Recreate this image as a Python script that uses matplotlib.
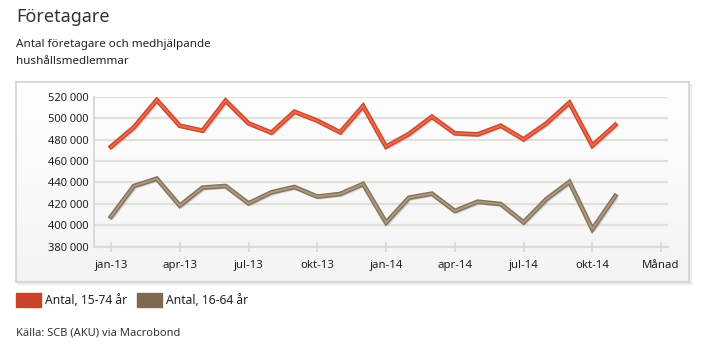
import numpy as np
import matplotlib.pyplot as plt
import matplotlib.patheffects as pe
from matplotlib.patches import Rectangle
from matplotlib.ticker import FuncFormatter

plt.rcParams['font.family'] = ['Noto Sans', 'DejaVu Sans']

# monthly values jan-13 .. nov-14
months = np.arange(23)
antal_15_74 = [473300, 491400, 516900, 492900, 488300, 516300, 495100, 486400,
               506000, 497600, 486700, 511300, 473300, 485200, 501300, 485800,
               484800, 492900, 480200, 495100, 514400, 474300, 493600]
antal_16_64 = [408000, 436600, 443500, 418300, 435100, 436600, 420400, 430700,
               435700, 426700, 429200, 438500, 402400, 425700, 429500, 413300,
               422000, 419800, 402700, 424500, 440400, 396200, 427300]
tick_pos = [0, 3, 6, 9, 12, 15, 18, 21, 24]
tick_labels = ['jan-13', 'apr-13', 'jul-13', 'okt-13', 'jan-14', 'apr-14',
               'jul-14', 'okt-14', 'Månad']
y_ticks = np.arange(380000, 520001, 20000)

W, H = 707, 352
fig = plt.figure(figsize=(W / 100, H / 100), dpi=100)

# framed background box with soft gradient
bg = fig.add_axes([16 / W, 1 - 282 / H, (689 - 16) / W, (282 - 82) / H])
grad = np.linspace(1.0, 0.955, 100).reshape(-1, 1)
bg.imshow(np.dstack([grad, grad, grad]), aspect='auto', extent=[0, 1, 0, 1])
bg.set_xticks([])
bg.set_yticks([])
for s in bg.spines.values():
    s.set_color('#d3d2ce')
    s.set_linewidth(1.2)
fig.patches.append(Rectangle((18 / W, 1 - 284 / H), (689 - 16) / W, (282 - 82) / H,
                             transform=fig.transFigure, color='#ececec', zorder=-1))

ax = fig.add_axes([94 / W, 1 - 246.7 / H, (668 - 94) / W, (246.7 - 96.7) / H])
ax.set_facecolor('none')

red_fx = [pe.SimpleLineShadow(offset=(1.5, -1.5), shadow_color='#777777', alpha=0.25),
          pe.Stroke(linewidth=3.4, foreground='#d6462a'), pe.Normal()]
brown_fx = [pe.SimpleLineShadow(offset=(1.5, -1.5), shadow_color='#777777', alpha=0.25),
            pe.Stroke(linewidth=3.4, foreground='#86735b'), pe.Normal()]
ax.plot(months, antal_15_74, color='#e56d51', lw=1.3, path_effects=red_fx,
        solid_joinstyle='miter', zorder=3)
ax.plot(months, antal_16_64, color='#ad9a82', lw=1.3, path_effects=brown_fx,
        solid_joinstyle='miter', zorder=3)

ax.set_xlim(-0.74, 24.3)
ax.set_ylim(380000, 520000)
ax.set_yticks(y_ticks)
ax.yaxis.set_major_formatter(FuncFormatter(lambda v, p: f'{int(v):,}'.replace(',', ' ')))
ax.set_xticks(tick_pos)
ax.set_xticklabels(tick_labels)
ax.grid(axis='y', color='#e3e0dc', lw=1.6)
ax.set_axisbelow(True)
for s in ['top', 'right']:
    ax.spines[s].set_visible(False)
ax.spines['left'].set_color('#dcdad6')
ax.spines['bottom'].set_color('#dcdad6')
ax.spines['left'].set_linewidth(1.4)
ax.spines['bottom'].set_linewidth(1.6)
ax.tick_params(axis='y', length=0, pad=4, labelsize=8, labelcolor='#222222')
ax.tick_params(axis='x', direction='inout', length=7, width=1.4, color='#dcdad6',
               pad=6, labelsize=8.2, labelcolor='#222222')

fig.text(16 / W, 1 - 17 / H, 'Företagare', fontsize=13, color='#333333', va='center')
fig.text(16 / W, 1 - 45 / H, 'Antal företagare och medhjälpande', fontsize=8.4,
         color='#222222', va='center')
fig.text(16 / W, 1 - 62 / H, 'hushållsmedlemmar', fontsize=8.4, color='#222222', va='center')

# legend
fig.patches.append(Rectangle((16 / W, 1 - 307 / H), 25 / W, 14 / H,
                             transform=fig.transFigure, color='#c8432a'))
fig.text(45 / W, 1 - 300 / H, 'Antal, 15-74 år', fontsize=8.7, color='#222222', va='center')
fig.patches.append(Rectangle((137 / W, 1 - 307 / H), 25 / W, 14 / H,
                             transform=fig.transFigure, color='#7f6a4f'))
fig.text(166 / W, 1 - 300 / H, 'Antal, 16-64 år', fontsize=8.7, color='#222222', va='center')

fig.text(16 / W, 1 - 333 / H, 'Källa: SCB (AKU) via Macrobond', fontsize=8,
         color='#333333', va='center')

fig.savefig('out.png', dpi=100)
